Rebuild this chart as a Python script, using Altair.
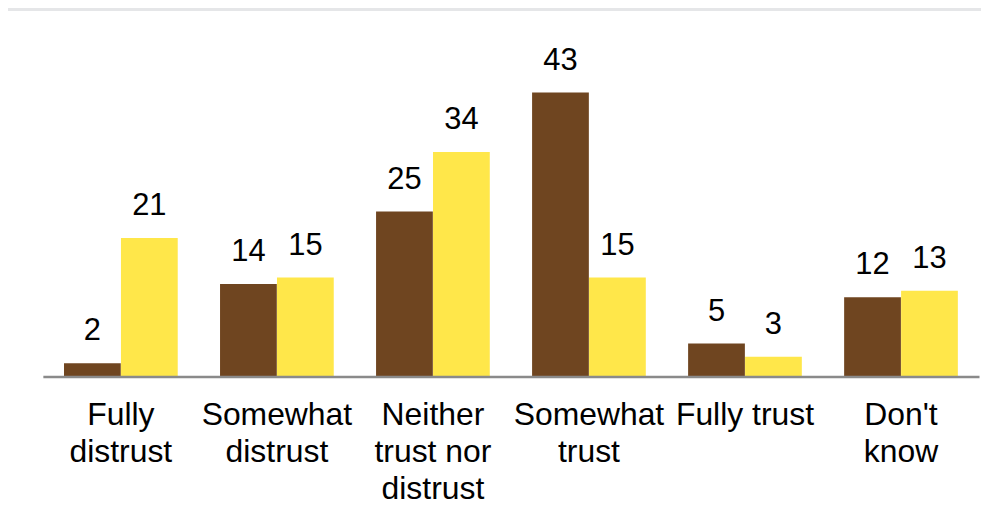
import altair as alt
import pandas as pd

categories = ["Fully|distrust", "Somewhat|distrust", "Neither|trust nor|distrust",
              "Somewhat|trust", "Fully trust", "Don't|know"]
series_names = ["Group 1", "Group 2"]
values_1 = [2, 14, 25, 43, 5, 12]
values_2 = [21, 15, 34, 15, 3, 13]
colors = ["#6f4520", "#ffe74a"]

rows = []
for c, a, b in zip(categories, values_1, values_2):
    rows.append({"category": c, "series": series_names[0], "value": a})
    rows.append({"category": c, "series": series_names[1], "value": b})
df = pd.DataFrame(rows)

W, H = 940, 358

base = alt.Chart(df).encode(
    x=alt.X("category:N", sort=categories,
            scale=alt.Scale(paddingInner=0.27, paddingOuter=0.135),
            axis=alt.Axis(title=None, labelAngle=0, ticks=False,
                          labelExpr="split(datum.label, '|')",
                          labelFont="Liberation Sans", labelFontSize=32,
                          labelLineHeight=37, labelColor="#000000",
                          labelPadding=23, domainColor="#8a8a8a",
                          domainWidth=2.5, labelLimit=300, zindex=1)),
    xOffset=alt.XOffset("series:N", sort=series_names,
                        scale=alt.Scale(paddingInner=0, paddingOuter=0)),
    y=alt.Y("value:Q", scale=alt.Scale(domain=[0, 54], nice=False),
            axis=None),
)

bars = base.mark_bar(size=57).encode(
    color=alt.Color("series:N", sort=series_names,
                    scale=alt.Scale(domain=series_names, range=colors),
                    legend=None)
)

labels = base.mark_text(baseline="alphabetic", dy=-23, font="Liberation Sans",
                        fontSize=31, color="#000000").encode(text="value:Q")

bg = alt.Chart(pd.DataFrame({"a": [0]})).mark_rect(color="#ffffff").encode(
    x=alt.value(-35), x2=alt.value(W + 2),
    y=alt.value(-9), y2=alt.value(H + 160),
)

chart = alt.layer(bg, bars, labels).properties(
    width=W, height=H,
    autosize="none",
    padding={"left": 35, "top": 11, "right": 2, "bottom": 140},
    background="#e5e6e8",
).configure_view(stroke=None)

chart.save("out.html", embed_options={"renderer": "svg", "actions": False})
